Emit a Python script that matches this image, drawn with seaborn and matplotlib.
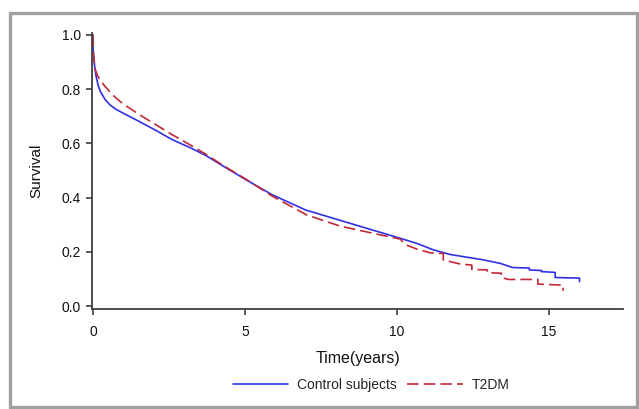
import matplotlib
matplotlib.use("Agg")
import matplotlib.pyplot as plt
import seaborn as sns
import pandas as pd
from matplotlib.patches import Rectangle

# ---- data ----
control_time = [0, 0.01, 0.05, 0.10, 0.17, 0.25, 0.40, 0.56, 0.75, 1.0, 1.5, 2.1, 2.6, 3.2,
                3.7, 4.3, 5.0, 5.9, 7.0, 8.1, 9.2, 10.1, 10.65, 11.2, 11.75, 12.3, 12.85,
                13.4, 13.8, 14.35, 14.35, 14.75, 14.75, 15.2, 15.2, 16.0, 16.0]
control_surv = [1.0, 0.94, 0.89, 0.85, 0.815, 0.79, 0.762, 0.742, 0.726, 0.711, 0.682, 0.646,
                0.614, 0.584, 0.556, 0.515, 0.468, 0.41, 0.354, 0.317, 0.28, 0.25, 0.231, 0.207,
                0.19, 0.18, 0.17, 0.157, 0.142, 0.140, 0.133, 0.131, 0.127, 0.124, 0.105,
                0.103, 0.09]

t2dm_time = [0, 0.02, 0.07, 0.15, 0.23, 0.40, 0.56, 0.75, 1.0, 1.54, 2.08, 2.62, 3.17, 3.71,
             4.26, 5.0, 5.93, 7.03, 8.12, 9.22, 10.1, 10.3, 10.65, 11.1, 11.52, 11.52, 12.07,
             12.46, 12.46, 12.97, 12.97, 13.43, 13.43, 13.65, 14.63, 14.63, 15.46, 15.46]
t2dm_surv = [1.0, 0.93, 0.875, 0.85, 0.834, 0.81, 0.79, 0.768, 0.745, 0.705, 0.668, 0.631,
             0.596, 0.56, 0.52, 0.47, 0.403, 0.336, 0.295, 0.268, 0.247, 0.225, 0.21,
             0.196, 0.194, 0.170, 0.155, 0.151, 0.135, 0.133, 0.123, 0.121, 0.106, 0.098,
             0.098, 0.081, 0.077, 0.056]

groups = ["Control subjects", "T2DM"]
x_ticks = [0, 5, 10, 15]
y_ticks = [0.0, 0.2, 0.4, 0.6, 0.8, 1.0]

df = pd.concat([
    pd.DataFrame({"Time": control_time, "Survival": control_surv, "Group": groups[0]}),
    pd.DataFrame({"Time": t2dm_time, "Survival": t2dm_surv, "Group": groups[1]}),
], ignore_index=True)

sns.set_style("ticks")
plt.rcParams["font.family"] = ["Liberation Sans", "DejaVu Sans"]

fig = plt.figure(figsize=(6.39, 4.09), dpi=100)
ax = fig.add_axes([92 / 639, 1 - 309 / 409, (623 - 92) / 639, (309 - 33) / 409])

palette = {groups[0]: "#3030e6", groups[1]: "#c42838"}
dashes = {groups[0]: "", groups[1]: (7, 3)}
sns.lineplot(data=df, x="Time", y="Survival", hue="Group", style="Group",
             palette=palette, dashes=dashes, estimator=None, sort=False,
             linewidth=1.2, ax=ax)

ax.set_xlim(-0.03, 17.43)
ax.set_ylim(-0.011, 1.007)
ax.set_xticks(x_ticks)
ax.set_xticklabels([str(v) for v in x_ticks])
ax.set_yticks(y_ticks)
ax.set_yticklabels([f"{v:.1f}" for v in y_ticks])

for side in ["top", "right"]:
    ax.spines[side].set_visible(False)
for side in ["left", "bottom"]:
    ax.spines[side].set_color("#404040")
    ax.spines[side].set_linewidth(1.3)
ax.tick_params(axis="both", direction="out", length=4.3, width=1.2, color="#404040",
               labelsize=10, labelcolor="#111111")
ax.tick_params(axis="x", pad=7)
ax.tick_params(axis="y", pad=3.5)

ax.set_xlabel("Time(years)", fontsize=11.5, labelpad=9, color="#111111")
ax.set_ylabel("Survival", fontsize=11, labelpad=13, color="#111111")

handles, labels = ax.get_legend_handles_labels()
ax.get_legend().remove()
fig.legend(handles, labels, loc="center", bbox_to_anchor=(371 / 639, 1 - 385 / 409),
           ncol=2, frameon=False, fontsize=10, handlelength=4.0, handletextpad=0.6,
           columnspacing=0.8)

fig.patches.append(Rectangle((10 / 639, 1 - 407 / 409), (637 - 10) / 639, (407 - 13) / 409,
                             transform=fig.transFigure, fill=False, edgecolor="#a0a0a0",
                             linewidth=2.4))

fig.savefig("out.png", dpi=100)
